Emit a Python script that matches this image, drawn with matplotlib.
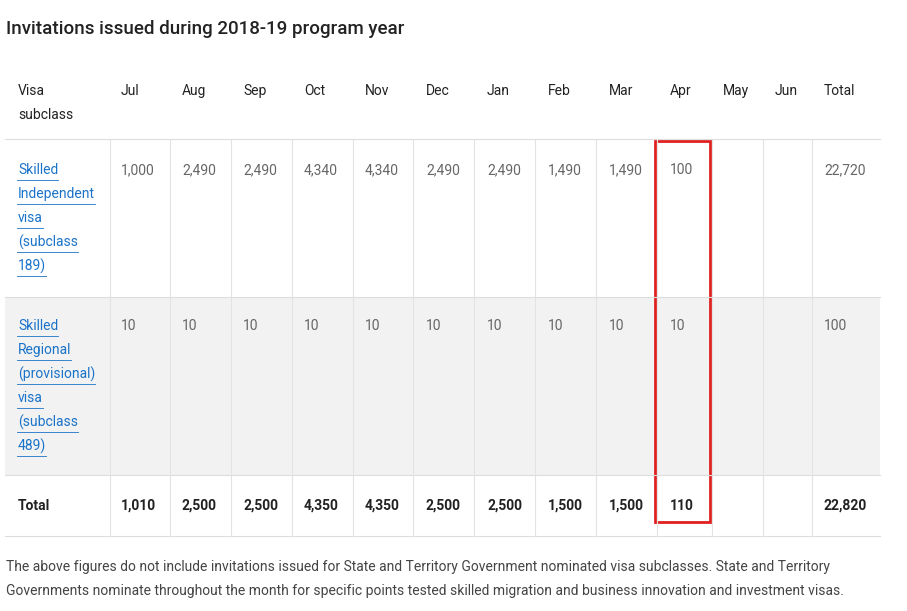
import matplotlib
matplotlib.use("Agg")
import matplotlib.pyplot as plt
from matplotlib.patches import Rectangle

plt.rcParams["font.family"] = ["Roboto", "DejaVu Sans"]

title = "Invitations issued during 2018-19 program year"
months = ["Jul", "Aug", "Sep", "Oct", "Nov", "Dec", "Jan", "Feb", "Mar", "Apr", "May", "Jun", "Total"]
visa_189 = ["1,000", "2,490", "2,490", "4,340", "4,340", "2,490", "2,490", "1,490", "1,490", "100", "", "", "22,720"]
visa_489 = ["10", "10", "10", "10", "10", "10", "10", "10", "10", "10", "", "", "100"]
totals = ["1,010", "2,500", "2,500", "4,350", "4,350", "2,500", "2,500", "1,500", "1,500", "110", "", "", "22,820"]
label_189 = ["Skilled", "Independent", "visa", "(subclass", "189)"]
label_489 = ["Skilled", "Regional", "(provisional)", "visa", "(subclass", "489)"]
footnote = ["The above figures do not include invitations issued for State and Territory Government nominated visa subclasses. State and Territory",
            "Governments nominate throughout the month for specific points tested skilled migration and business innovation and investment visas."]

col_x = [121, 182, 243, 304, 365, 426, 487, 548, 609, 670, 723, 775, 824]
sep_x = [110, 170, 231, 292, 353, 413, 474, 535, 596, 657, 712, 763, 812]

fig = plt.figure(figsize=(9.07, 6.11), dpi=100)
ax = fig.add_axes([0, 0, 1, 1])
ax.set_xlim(0, 907)
ax.set_ylim(611, 0)
ax.axis("off")

dark = "#222222"
grey = "#666666"
link = "#1a73c9"

ax.text(6, 29, title, fontsize=13.5, color=dark, va="center", fontweight="medium")

# row backgrounds and rules
ax.add_patch(Rectangle((5, 297), 875, 178, color="#f2f2f2", lw=0))
for y in (139, 297, 475, 536):
    ax.plot([5, 880], [y, y], color="#dddddd", lw=0.8)
for x in sep_x:
    ax.plot([x, x], [139, 536], color="#e3e3e3", lw=0.8)

# header
ax.text(18, 91, "Visa", fontsize=10, color=dark, va="center")
ax.text(18, 115, "subclass", fontsize=10, color=dark, va="center")
for x, m in zip(col_x, months):
    ax.text(x, 91, m, fontsize=10, color=dark, va="center")

# body rows
renderer = fig.canvas.get_renderer()


def link_lines(lines, y0):
    for i, s in enumerate(lines):
        y = y0 + i * 24
        t = ax.text(18, y, s, fontsize=10, color=link, va="center")
        w = t.get_window_extent(renderer).width  # pixels == data units here
        ax.plot([17, 18 + w], [y + 10, y + 10], color=link, lw=0.6)


link_lines(label_189, 170)
link_lines(label_489, 326)
for x, a, b, t in zip(col_x, visa_189, visa_489, totals):
    ax.text(x, 170, a, fontsize=10, color=grey, va="center")
    ax.text(x, 326, b, fontsize=10, color=grey, va="center")
    ax.text(x, 506, t, fontsize=10, color=dark, va="center", fontweight="bold")
ax.text(18, 506, "Total", fontsize=10, color=dark, va="center", fontweight="bold")

# highlight
ax.add_patch(Rectangle((655, 141), 55, 381, fill=False, ec="#e02020", lw=2))

for i, s in enumerate(footnote):
    ax.text(6, 567 + i * 24, s, fontsize=10, color="#444444", va="center")

fig.savefig("out.png", dpi=100)
